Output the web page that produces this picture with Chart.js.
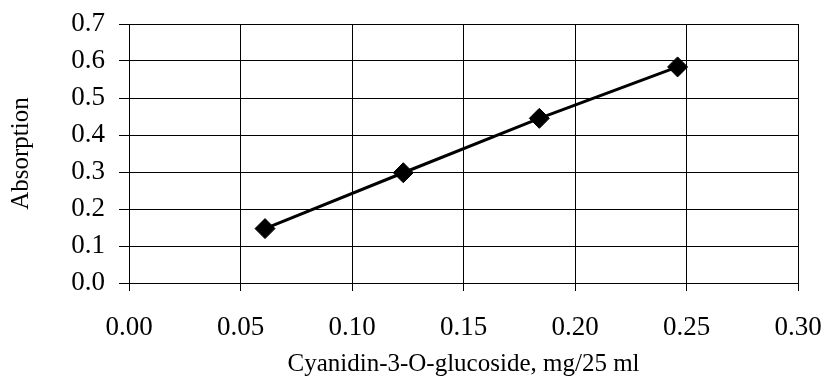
<!DOCTYPE html>
<html>
<head>
<meta charset="utf-8">
<script src="https://cdn.jsdelivr.net/npm/chart.js@4/dist/chart.umd.min.js"></script>
<style>
  body { margin: 0; background: #fff; }
</style>
</head>
<body>
<canvas id="myChart" width="827" height="388"></canvas>
<script>
// data
const concentration = [0.061, 0.123, 0.184, 0.246];
const absorption = [0.147, 0.298, 0.445, 0.584];
const xTitle = "Cyanidin-3-O-glucoside, mg/25 ml";
const yTitle = "Absorption";

const points = concentration.map((c, i) => ({ x: c, y: absorption[i] }));

Chart.defaults.font.family = "'Liberation Serif', 'Times New Roman', serif";
Chart.defaults.color = "#000";

const ctx = document.getElementById("myChart").getContext("2d");
const line = new Chart(ctx, {
  type: "scatter",
  data: {
    datasets: [
      {
        data: points,
        showLine: true,
        borderColor: "#000",
        borderWidth: 3,
        backgroundColor: "#000",
        pointStyle: "rectRot",
        pointRadius: 10,
        pointBorderWidth: 1,
        pointBorderColor: "#000",
      },
    ],
  },
  options: {
    responsive: false,
    animation: false,
    layout: { padding: { top: 24, right: 29, left: 0, bottom: 0 } },
    plugins: {
      legend: { display: false },
      tooltip: { enabled: false },
    },
    scales: {
      x: {
        type: "linear",
        min: 0,
        max: 0.3,
        grid: { color: "#000", lineWidth: 1, tickLength: 8 },
        border: { color: "#000", width: 1 },
        ticks: {
          stepSize: 0.05,
          padding: 21,
          font: { size: 27 },
          callback: (v) => v.toFixed(2),
        },
        title: {
          display: true,
          text: xTitle,
          font: { size: 25 },
          padding: { top: 0, bottom: 9 },
        },
        afterFit: (s) => {
          s.height = 105;
          s.paddingLeft = 0;
          s.paddingRight = 0;
        },
      },
      y: {
        min: 0,
        max: 0.7,
        grid: { color: "#000", lineWidth: 1, tickLength: 10 },
        border: { color: "#000", width: 1 },
        ticks: {
          stepSize: 0.1,
          padding: 14,
          font: { size: 27 },
          callback: (v) => v.toFixed(1),
        },
        title: {
          display: true,
          text: yTitle,
          font: { size: 25 },
          padding: { top: 6, bottom: 0 },
        },
        afterFit: (s) => {
          s.width = 129;
          s.paddingTop = 0;
          s.paddingBottom = 0;
        },
      },
    },
  },
});
</script>
</body>
</html>
